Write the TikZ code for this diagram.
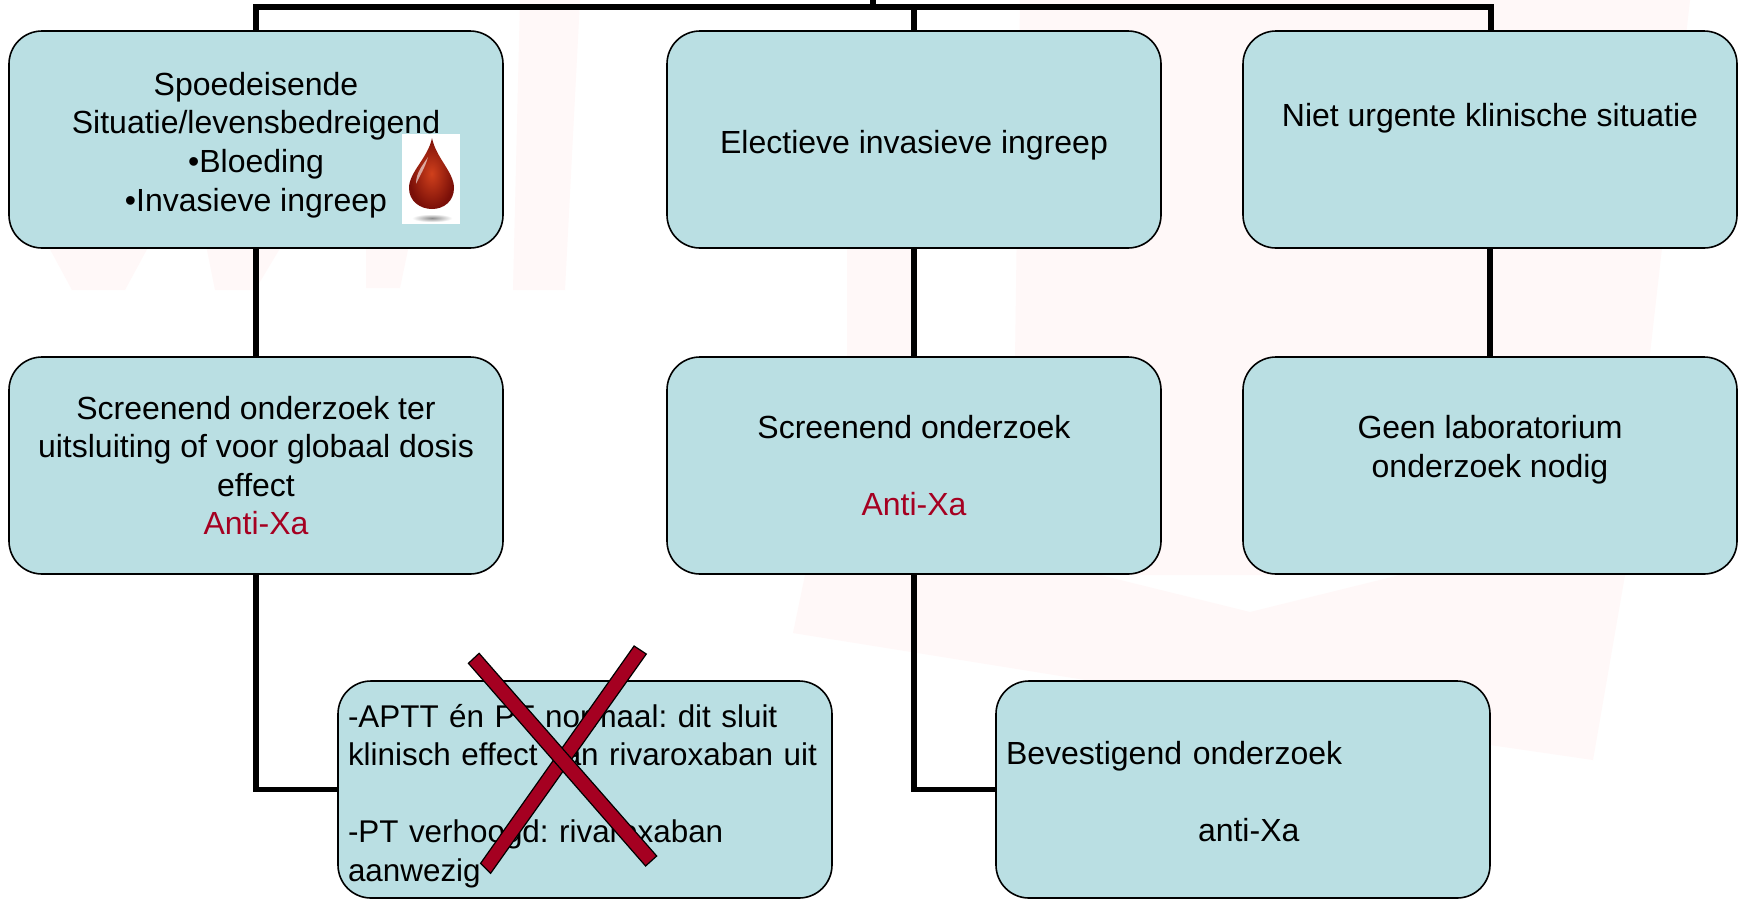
\documentclass[tikz,border=0pt]{standalone}
\usepackage{fontspec}
\setmainfont{Liberation Sans}
\frenchspacing
\definecolor{boxfill}{HTML}{BADFE3}
\definecolor{alarm}{HTML}{A50021}
\definecolor{wm}{HTML}{FFF8F8}
\definecolor{dropdark}{HTML}{7A0F08}
\definecolor{dropmid}{HTML}{D0401C}
\newcommand\dropby[1]{\rule{0pt}{#1}}
\tikzset{
  flowbox/.style={draw=black,line width=1.6pt,fill=boxfill,rounded corners=33pt,minimum width=494pt,minimum height=217pt,inner sep=0pt,align=center,font=\fontsize{32}{38.6}\selectfont},
  leftbox/.style={flowbox,text width=474pt,align=left},
  link/.style={line width=5.5pt,draw=black,line cap=butt},
  crossbar/.style={draw=black,line width=1.2pt,fill=alarm},
}
\begin{document}
\begin{tikzpicture}[x=1pt,y=-1pt]
\useasboundingbox (0,0) rectangle (1743,898);
\fill[white] (0,0) rectangle (1743,898);
% faint watermark
\fill[wm] (45,240) -- (152,240) -- (125,290) -- (72,290) -- cycle;
\fill[wm] (205,240) -- (285,240) -- (255,290) -- (215,290) -- cycle;
\fill[wm] (366,240) -- (410,240) -- (400,288) -- (366,288) -- cycle;
\fill[wm] (520,0) -- (580,0) -- (565,290) -- (513,290) -- cycle;
\fill[wm] (847,240) rectangle (913,360);
\fill[wm] (1020,0) -- (1690,0) -- (1625,575) -- (1593,760) -- (1490,745) -- (793,633) -- (805,575) -- (1100,575) -- (1250,612) -- (1400,575) -- (1012,575) -- cycle;
% boxes
\coordinate (root) at (873,0);
\coordinate (busl) at (256,7);
\coordinate (busr) at (1491,7);
\coordinate (busm) at (873,7);
\node[flowbox] (a1) at (256,139.5) {\dropby{34pt}Spoedeisende\\Situatie/levensbedreigend\\•Bloeding\\•Invasieve ingreep};
\node[flowbox] (b1) at (914,139.5) {\dropby{34pt}Electieve invasieve ingreep};
\node[flowbox] (c1) at (1490,139.5) {Niet urgente klinische situatie\\[11.4pt]~};
\node[flowbox] (a2) at (256,465.5) {Screenend onderzoek ter\\uitsluiting of voor globaal dosis\\effect\\\textcolor{alarm}{Anti-Xa}};
\node[flowbox] (b2) at (914,465.5) {Screenend onderzoek\\~\\\textcolor{alarm}{Anti-Xa}};
\node[flowbox] (c2) at (1490,465.5) {Geen laboratorium\\onderzoek nodig\\~};
\node[leftbox,font=\fontsize{31.4}{38.6}\selectfont] (a3) at (585,789.5) {\dropby{36pt}-APTT én PT normaal: dit sluit\\\mbox{klinisch effect van rivaroxaban uit}\\~\\-PT verhoogd: rivaroxaban\\aanwezig};
\node[leftbox] (b3) at (1243,789.5) {\dropby{28pt}Bevestigend onderzoek\\~\\\hspace*{192pt}anti-Xa};
% connectors
\draw[link] (root) -- (busm);
\draw[link] (busl |- a1.north) -- (busl) -- (busr) -- (busr |- c1.north);
\draw[link] (busm -| b1.north) -- (b1.north);
\draw[link] (a1) -- (a2);
\draw[link] (b1) -- (b2);
\draw[link] (c1) -- (c2);
\draw[link] (a2.south) |- (a3.west);
\draw[link] (b2.south) |- (b3.west);
% picture in box
\fill[white] (402,134) rectangle (460,224);
\shade[inner color=black!45,outer color=white] (412,214) rectangle (452,222);
\shade[inner color=dropmid,outer color=dropdark] (432,138) .. controls (436,158) and (454,172) .. (454,188) .. controls (454,201) and (444,209) .. (432,209) .. controls (420,209) and (409,201) .. (409,188) .. controls (409,172) and (428,158) .. (432,138) -- cycle;
\fill[white,opacity=.6] (416,184) .. controls (416,172) and (423,165) .. (428,157) .. controls (425,168) and (420,175) .. (416,184) -- cycle;
% cross
\path[crossbar] (634.1,646) -- (646.3,654) -- (490.6,873.3) -- (480.6,863.3) -- cycle;
\path[crossbar] (468.4,663.3) -- (479.1,653.3) -- (656.7,856) -- (645.6,866) -- cycle;
\end{tikzpicture}
\end{document}
